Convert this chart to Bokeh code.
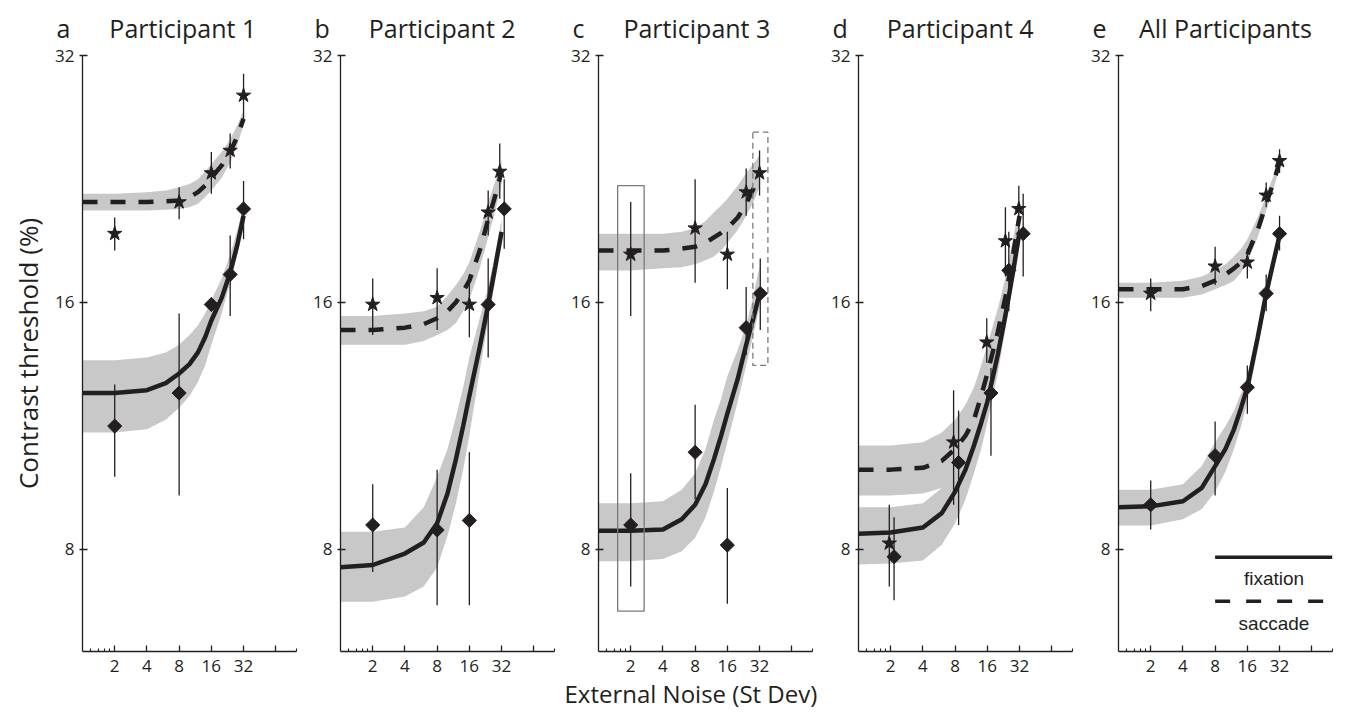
import math
from bokeh.plotting import figure
from bokeh.models import (Range1d, FixedTicker, BasicTickFormatter, Label,
                          BoxAnnotation, Arrow, Title)
from bokeh.layouts import row
from bokeh.embed import file_html
from bokeh.resources import INLINE

# ---------------- data ----------------
panel_letters = ["a", "b", "c", "d", "e"]
panel_titles = ["Participant 1", "Participant 2", "Participant 3",
                "Participant 4", "All Participants"]
x_axis_title = "External Noise (St Dev)"
y_axis_title = "Contrast threshold (%)"
x_tick_values = [2, 4, 8, 16, 32, 64]
x_tick_labels = ["2", "4", "8", "16", "32", ""]
x_minor_ticks = [1.2, 1.4, 1.6, 1.8, 100]
y_tick_values = [8, 16, 32]

# x positions at which the fitted curves / bands were read
fit_x = [1, 2, 4, 6, 8, 10, 12, 14, 16, 20, 24, 28, 32]

# Panel a - Participant 1
a_sac_x = [2, 8, 16, 24, 32]
a_sac = [19.4, 21.2, 23.0, 24.5, 28.6]
a_sac_lo = [18.5, 20.2, 21.7, 23.3, 26.7]
a_sac_hi = [20.3, 22.1, 24.4, 25.7, 30.4]
a_fix_x = [2, 8, 16, 24, 32]
a_fix = [11.3, 12.4, 15.9, 17.3, 20.8]
a_fix_lo = [9.8, 9.3, 15.6, 15.4, 19.1]
a_fix_hi = [12.7, 15.5, 16.2, 19.3, 22.5]
a_sac_fit = [21.2, 21.2, 21.2, 21.25, 21.3, 21.5, 21.8, 22.2, 22.7, 23.5, 24.4, 25.5, 26.8]
a_sac_band_lo = [20.7, 20.7, 20.7, 20.75, 20.8, 20.9, 21.1, 21.5, 21.9, 22.7, 23.7, 24.9, 26.3]
a_sac_band_hi = [21.7, 21.7, 21.8, 21.9, 22.1, 22.3, 22.6, 23.1, 23.6, 24.4, 25.3, 26.3, 27.4]
a_fix_fit = [12.4, 12.4, 12.5, 12.75, 13.1, 13.45, 13.9, 14.5, 15.2, 16.2, 17.4, 18.8, 20.4]
a_fix_band_lo = [11.1, 11.1, 11.2, 11.5, 11.9, 12.3, 12.8, 13.4, 14.2, 15.5, 16.9, 18.3, 19.9]
a_fix_band_hi = [13.6, 13.6, 13.7, 13.9, 14.2, 14.6, 15.0, 15.5, 16.1, 17.1, 18.3, 19.6, 21.0]

# Panel b - Participant 2
b_sac_x = [2, 8, 16, 24, 30.8]
b_sac = [15.9, 16.2, 15.9, 20.6, 23.1]
b_sac_lo = [14.6, 14.8, 14.5, 19.3, 21.4]
b_sac_hi = [17.1, 17.6, 17.3, 21.9, 25.0]
b_fix_x = [2, 8, 16, 24, 33.9]
b_fix = [8.56, 8.44, 8.67, 15.9, 20.8]
b_fix_lo = [7.5, 6.83, 6.83, 13.7, 18.6]
b_fix_hi = [9.6, 10.0, 10.5, 18.1, 22.6]
b_sac_fit = [14.8, 14.8, 14.9, 15.05, 15.3, 15.6, 16.0, 16.5, 17.0, 18.5, 20.2, 21.6, 23.1]
b_sac_band_lo = [14.2, 14.2, 14.2, 14.35, 14.6, 14.8, 15.1, 15.6, 16.1, 17.6, 19.2, 20.7, 22.3]
b_sac_band_hi = [15.4, 15.4, 15.5, 15.6, 15.8, 16.3, 16.8, 17.3, 17.9, 19.5, 21.2, 22.5, 23.9]
b_fix_fit = [7.6, 7.65, 7.9, 8.15, 8.6, 9.35, 10.3, 11.3, 12.3, 14.1, 15.9, 17.7, 19.5]
b_fix_band_lo = [6.9, 6.9, 7.0, 7.2, 7.6, 8.3, 9.1, 10.0, 11.0, 13.2, 15.2, 17.0, 18.9]
b_fix_band_hi = [8.4, 8.4, 8.5, 9.0, 9.8, 10.6, 11.6, 12.6, 13.7, 15.3, 16.7, 18.4, 20.2]

# Panel c - Participant 3
c_sac_x = [2, 8, 16, 24, 32]
c_sac = [18.3, 19.7, 18.3, 21.8, 23.0]
c_sac_lo = [15.4, 16.9, 16.6, 20.4, 21.6]
c_sac_hi = [21.2, 22.6, 19.5, 23.3, 24.5]
c_fix_x = [2, 8, 16, 24, 32.5]
c_fix = [8.56, 10.5, 8.09, 14.9, 16.4]
c_fix_lo = [7.2, 9.2, 6.86, 13.8, 14.8]
c_fix_hi = [9.9, 12.0, 9.5, 16.7, 18.1]
c_sac_fit = [18.5, 18.5, 18.5, 18.6, 18.7, 18.9, 19.2, 19.45, 19.7, 20.3, 21.1, 22.0, 23.0]
c_sac_band_lo = [17.5, 17.5, 17.6, 17.65, 17.8, 18.0, 18.2, 18.5, 18.9, 19.6, 20.4, 21.2, 22.1]
c_sac_band_hi = [19.4, 19.4, 19.4, 19.5, 19.7, 20.1, 20.6, 21.0, 21.4, 22.2, 23.0, 23.6, 24.2]
c_fix_fit = [8.42, 8.42, 8.45, 8.7, 9.06, 9.6, 10.3, 11.0, 11.7, 12.9, 14.2, 15.3, 16.4]
c_fix_band_lo = [7.73, 7.73, 7.78, 7.95, 8.26, 8.75, 9.4, 10.1, 10.8, 12.1, 13.4, 14.6, 15.8]
c_fix_band_hi = [9.1, 9.1, 9.15, 9.45, 9.9, 10.6, 11.5, 12.2, 13.0, 14.0, 15.0, 16.3, 17.7]
# highlighted boxes in panel c (x from, x to, y from, y to)
c_box_solid = [1.51, 2.67, 6.72, 22.2]
c_box_dashed = [27.7, 38.3, 13.4, 25.8]

# Panel d - Participant 4
d_sac_x = [1.94, 7.74, 15.8, 23.6, 31.5]
d_sac = [8.13, 10.8, 14.3, 19.0, 20.8]
d_sac_lo = [7.2, 9.06, 13.5, 17.2, 19.5]
d_sac_hi = [9.06, 12.5, 15.3, 20.9, 22.2]
d_fix_x = [2.15, 8.62, 17.3, 25.4, 34.6]
d_fix = [7.83, 10.2, 12.4, 17.5, 19.4]
d_fix_lo = [6.93, 8.56, 10.4, 15.6, 17.2]
d_fix_hi = [8.75, 11.8, 13.3, 19.5, 21.7]
d_sac_fit = [10.0, 10.0, 10.05, 10.25, 10.6, 11.0, 11.5, 12.3, 13.1, 14.7, 16.4, 18.4, 20.4]
d_sac_band_lo = [9.3, 9.3, 9.35, 9.5, 9.8, 10.15, 10.6, 11.4, 12.3, 13.9, 15.6, 17.6, 19.7]
d_sac_band_hi = [10.7, 10.7, 10.8, 11.1, 11.5, 12.0, 12.6, 13.4, 14.2, 15.7, 17.3, 19.2, 21.1]
d_fix_fit = [8.35, 8.38, 8.5, 8.85, 9.4, 10.0, 10.7, 11.4, 12.1, 13.8, 15.6, 17.5, 19.5]
d_fix_band_lo = [7.66, 7.68, 7.75, 8.1, 8.6, 9.2, 9.9, 10.6, 11.4, 13.1, 15.0, 17.0, 19.0]
d_fix_band_hi = [9.0, 9.0, 9.1, 9.5, 10.1, 10.8, 11.5, 12.2, 13.0, 14.6, 16.4, 18.3, 20.2]

# Panel e - All participants
e_sac_x = [2, 8, 16, 24, 32]
e_sac = [16.4, 17.7, 17.9, 21.6, 23.8]
e_sac_lo = [15.6, 16.8, 17.1, 20.9, 23.0]
e_sac_hi = [17.1, 18.7, 18.6, 22.4, 24.6]
e_fix_x = [2, 8, 16, 24, 32]
e_fix = [9.06, 10.4, 12.6, 16.4, 19.4]
e_fix_lo = [8.45, 9.3, 11.7, 15.6, 18.5]
e_fix_hi = [9.7, 11.45, 13.4, 17.3, 20.4]
e_sac_fit = [16.6, 16.6, 16.6, 16.75, 17.0, 17.3, 17.6, 17.9, 18.3, 19.6, 21.1, 22.4, 23.7]
e_sac_band_lo = [16.2, 16.2, 16.2, 16.35, 16.6, 16.8, 17.0, 17.4, 17.9, 19.2, 20.7, 22.0, 23.3]
e_sac_band_hi = [16.9, 16.9, 17.0, 17.2, 17.5, 17.8, 18.2, 18.6, 19.1, 20.3, 21.6, 22.8, 24.1]
e_fix_fit = [9.0, 9.02, 9.15, 9.5, 10.1, 10.6, 11.2, 11.9, 12.6, 14.5, 16.4, 17.9, 19.3]
e_fix_band_lo = [8.55, 8.55, 8.7, 8.95, 9.4, 9.95, 10.6, 11.3, 12.1, 14.0, 16.0, 17.5, 18.9]
e_fix_band_hi = [9.45, 9.45, 9.6, 10.1, 10.8, 11.3, 11.8, 12.4, 13.0, 14.8, 16.7, 18.2, 19.7]

# ---------------- style ----------------
INK = "#231f20"
BAND = "#c8c8c8"
BOX = "#7a7a7a"
FONT = "Open Sans"
ARIAL = "Liberation Sans"
NBSP = "\u00a0"

panels = [
    (a_sac_x, a_sac, a_sac_lo, a_sac_hi, a_fix_x, a_fix, a_fix_lo, a_fix_hi,
     a_sac_fit, a_sac_band_lo, a_sac_band_hi, a_fix_fit, a_fix_band_lo, a_fix_band_hi),
    (b_sac_x, b_sac, b_sac_lo, b_sac_hi, b_fix_x, b_fix, b_fix_lo, b_fix_hi,
     b_sac_fit, b_sac_band_lo, b_sac_band_hi, b_fix_fit, b_fix_band_lo, b_fix_band_hi),
    (c_sac_x, c_sac, c_sac_lo, c_sac_hi, c_fix_x, c_fix, c_fix_lo, c_fix_hi,
     c_sac_fit, c_sac_band_lo, c_sac_band_hi, c_fix_fit, c_fix_band_lo, c_fix_band_hi),
    (d_sac_x, d_sac, d_sac_lo, d_sac_hi, d_fix_x, d_fix, d_fix_lo, d_fix_hi,
     d_sac_fit, d_sac_band_lo, d_sac_band_hi, d_fix_fit, d_fix_band_lo, d_fix_band_hi),
    (e_sac_x, e_sac, e_sac_lo, e_sac_hi, e_fix_x, e_fix, e_fix_lo, e_fix_hi,
     e_sac_fit, e_sac_band_lo, e_sac_band_hi, e_fix_fit, e_fix_band_lo, e_fix_band_hi),
]

# (left, right) borders so that the frames sit where the reference has them
borders = [(82, 2), (42, 2), (42, 16), (28, 16), (28, 12)]
title_gap = [6, 6, 6, 6, 5]

figs = []
for i, data in enumerate(panels):
    (sx, sy, slo, shi, fx, fy, flo, fhi,
     sfit, sblo, sbhi, ffit, fblo, fbhi) = data
    L, R = borders[i]
    p = figure(x_axis_type="log", y_axis_type="log",
               x_range=Range1d(1, 100), y_range=Range1d(6, 32),
               frame_width=214, frame_height=596,
               min_border_left=L, min_border_right=R,
               min_border_top=55, min_border_bottom=64,
               output_backend="svg", toolbar_location=None,
               outline_line_color=None, background_fill_color="white",
               border_fill_color="white")
    p.grid.visible = False

    # title: panel letter + participant
    p.title = Title(text=panel_letters[i] + NBSP * title_gap[i] + panel_titles[i],
                    align="left", vertical_align="middle", offset=-26, standoff=19,
                    text_font=FONT, text_font_size="25px",
                    text_font_style="normal", text_color=INK)

    # axes
    xa = p.xaxis[0]
    xa.ticker = FixedTicker(ticks=x_tick_values, minor_ticks=x_minor_ticks)
    xa.formatter = BasicTickFormatter()
    xa.major_label_overrides = {v: t for v, t in zip(x_tick_values, x_tick_labels)}
    xa.major_tick_in = 6
    xa.major_tick_out = 0
    xa.minor_tick_in = 3
    xa.minor_tick_out = 0
    xa.major_label_standoff = 8
    xa.minor_tick_line_color = INK
    ya = p.yaxis[0]
    ya.ticker = FixedTicker(ticks=y_tick_values, minor_ticks=[])
    ya.formatter = BasicTickFormatter()
    ya.major_tick_in = 5
    ya.major_tick_out = 3
    ya.minor_tick_line_color = None
    ya.major_label_standoff = 5
    for ax in (xa, ya):
        ax.axis_line_color = INK
        ax.axis_line_width = 1.3
        ax.major_tick_line_color = INK
        ax.major_tick_line_width = 1.3
        ax.minor_tick_line_width = 1.1
        ax.major_label_text_font = FONT
        ax.major_label_text_font_size = "17px"
        ax.major_label_text_color = INK

    # confidence bands
    p.varea(x=fit_x, y1=fblo, y2=fbhi, fill_color=BAND)
    p.varea(x=fit_x, y1=sblo, y2=sbhi, fill_color=BAND)
    # fitted curves
    p.line(fit_x, ffit, line_width=4.5, line_color=INK)
    p.line(fit_x, sfit, line_width=4.5, line_color=INK, line_dash="15 13")
    # error bars
    p.segment(x0=sx, y0=slo, x1=sx, y1=shi, line_width=1.3, line_color=INK)
    p.segment(x0=fx, y0=flo, x1=fx, y1=fhi, line_width=1.3, line_color=INK)
    # points
    p.scatter(sx, sy, marker="star", size=15, fill_color=INK, line_color=INK)
    p.scatter(fx, fy, marker="square", angle=math.pi / 4, size=10,
              fill_color=INK, line_color=INK)
    figs.append(p)

# y-axis title on panel a
ya0 = figs[0].yaxis[0]
ya0.axis_label = y_axis_title
ya0.axis_label_text_font = FONT
ya0.axis_label_text_font_size = "26px"
ya0.axis_label_text_font_style = "normal"
ya0.axis_label_text_color = INK
ya0.axis_label_standoff = 6

# x-axis title under panel c (left aligned, shifted to the reference spot)
figs[2].add_layout(Title(text=x_axis_title, align="left", offset=-34, standoff=0,
                         text_font=FONT, text_font_size="24px",
                         text_font_style="normal", text_color=INK), "below")

# highlighted boxes in panel c
figs[2].add_layout(BoxAnnotation(left=c_box_solid[0], right=c_box_solid[1],
                                 bottom=c_box_solid[2], top=c_box_solid[3],
                                 fill_alpha=0, line_color=BOX, line_alpha=1.0,
                                 line_width=1.3))
figs[2].add_layout(BoxAnnotation(left=c_box_dashed[0], right=c_box_dashed[1],
                                 bottom=c_box_dashed[2], top=c_box_dashed[3],
                                 fill_alpha=0, line_color=BOX, line_alpha=1.0,
                                 line_width=1.3, line_dash="6 4"))

# legend in panel e (line above its label)
pe = figs[4]
pe.add_layout(Arrow(end=None, x_start=8, y_start=7.82, x_end=100, y_end=7.82,
                    line_width=3.5, line_color=INK))
pe.add_layout(Label(x=28.4, y=7.37, text="fixation", text_align="center",
                    text_baseline="middle", text_font=ARIAL,
                    text_font_size="19px", text_color=INK))
pe.add_layout(Arrow(end=None, x_start=8, y_start=6.91, x_end=84, y_end=6.91,
                    line_width=3.5, line_color=INK, line_dash="15 16"))
pe.add_layout(Label(x=28.4, y=6.5, text="saccade", text_align="center",
                    text_baseline="middle", text_font=ARIAL,
                    text_font_size="19px", text_color=INK))

layout = row(*figs, spacing=0)
open("out.html", "w").write(file_html(layout, INLINE))
